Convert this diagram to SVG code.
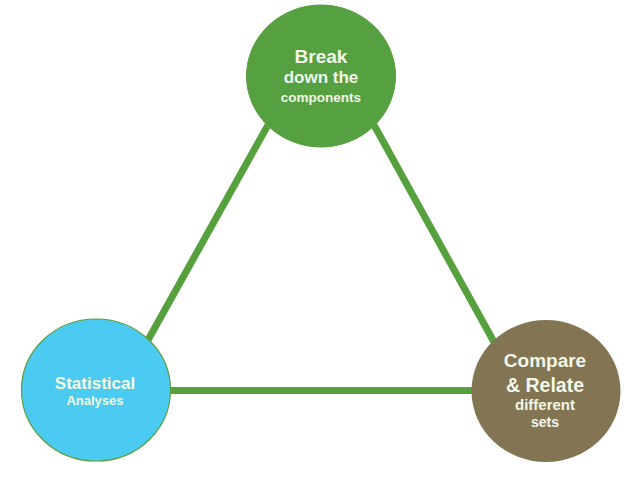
<svg xmlns="http://www.w3.org/2000/svg" width="639" height="477" viewBox="0 0 639 477">
<style>
.ln{stroke:#56a03d;stroke-width:7;fill:none}
.t{font-family:"Liberation Sans",Arial,sans-serif;font-weight:bold;text-anchor:middle;fill:#f2f7ea}
</style>
<rect width="639" height="477" fill="#ffffff"/>
<g id="connectors">
<line class="ln" x1="268" y1="125" x2="148" y2="340"/>
<line class="ln" x1="374" y1="125" x2="494" y2="342"/>
<line class="ln" x1="165" y1="390.5" x2="476" y2="390.5"/>
</g>
<g id="node-break">
<ellipse cx="321" cy="76" rx="74.5" ry="71" fill="#55a040" stroke="#5a9e3e" stroke-width="1"/>
<text class="t" x="321" y="63" font-size="19">Break</text>
<text class="t" x="321" y="83" font-size="17">down the</text>
<text class="t" x="321" y="102" font-size="13.5">components</text>
</g>
<g id="node-statistical">
<ellipse cx="96" cy="390" rx="74.5" ry="71" fill="#4bcbf2" stroke="#5a9e3e" stroke-width="1.2"/>
<text class="t" x="95" y="389" font-size="17" fill="#f4f7dc" style="fill:#f4f7dc">Statistical</text>
<text class="t" x="95" y="405" font-size="13" style="fill:#f4f7dc">Analyses</text>
</g>
<g id="node-compare">
<ellipse cx="546" cy="391" rx="74.5" ry="71" fill="#837553"/>
<text class="t" x="545" y="367" font-size="19">Compare</text>
<text class="t" x="545" y="392" font-size="19.5">&amp; Relate</text>
<text class="t" x="545" y="410" font-size="15">different</text>
<text class="t" x="545" y="427" font-size="14">sets</text>
</g>
</svg>
